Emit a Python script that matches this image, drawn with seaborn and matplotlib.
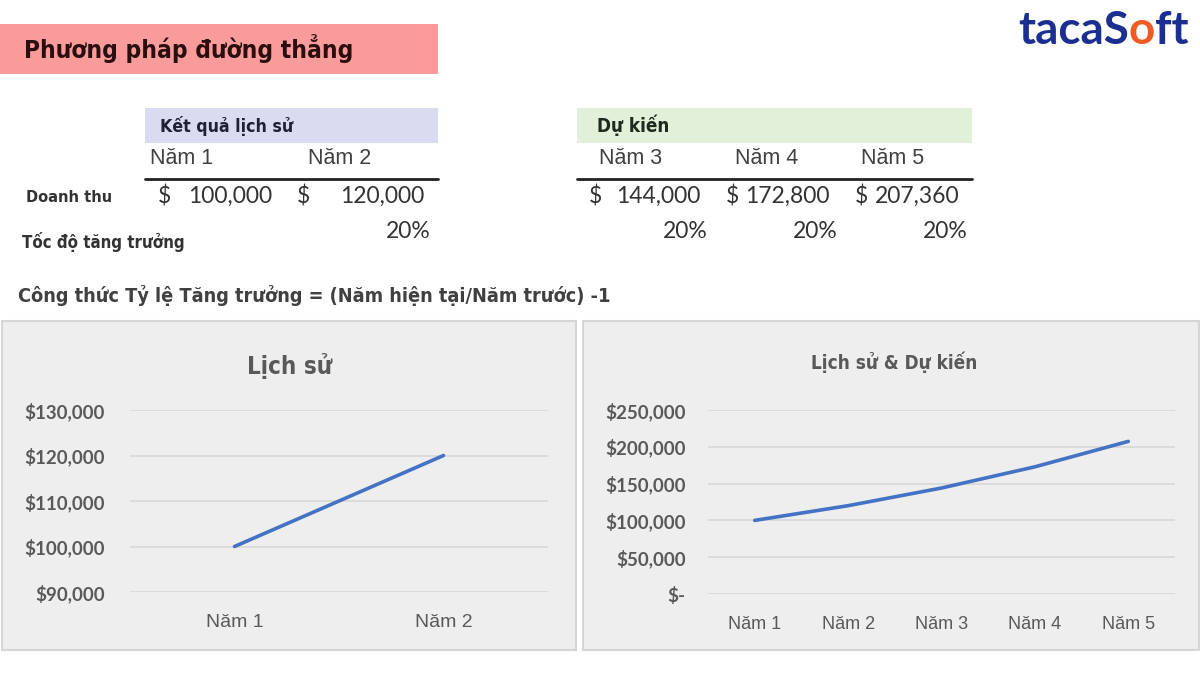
import matplotlib
matplotlib.use("Agg")
import matplotlib.pyplot as plt
import seaborn as sns
from matplotlib import font_manager as fm
from matplotlib.patches import Rectangle
from matplotlib.lines import Line2D
from matplotlib.ticker import FuncFormatter, MultipleLocator

# ---------------- data ----------------
title = "Phương pháp đường thẳng"
hist_header = "Kết quả lịch sử"
proj_header = "Dự kiến"
years = ["Năm 1", "Năm 2", "Năm 3", "Năm 4", "Năm 5"]
revenue = [100000, 120000, 144000, 172800, 207360]
growth = [None, "20%", "20%", "20%", "20%"]
row_labels = ["Doanh thu", "Tốc độ tăng trưởng"]
formula = "Công thức Tỷ lệ Tăng trưởng = (Năm hiện tại/Năm trước) -1"
chart1_title = "Lịch sử"
chart2_title = "Lịch sử & Dự kiến"
hist_years = years[:2]
hist_revenue = revenue[:2]
logo_parts = [("tacaS", "#1b2f91"), ("o", "#f15a24"), ("ft", "#1b2f91")]

# ---------------- style ----------------
sns.set_theme(style="white")
plt.rcParams["font.family"] = ["Liberation Sans", "DejaVu Sans"]
ARIAL = ["Liberation Sans", "DejaVu Sans"]
LATO = ["Lato", "DejaVu Sans"]

_fonts = {(f.name, f.stretch) for f in fm.fontManager.ttflist}
if any(n == "Liberation Sans Narrow" for n, _ in _fonts):
    NARROW = dict(family=["Liberation Sans Narrow", "DejaVu Sans"])
elif ("DejaVu Sans", "condensed") in _fonts:
    NARROW = dict(family=["DejaVu Sans"], stretch="condensed")
else:
    NARROW = dict(family=["Roboto", "DejaVu Sans"])

W, H = 1200, 675
fig = plt.figure(figsize=(12, 6.75), dpi=100)
fig.patch.set_facecolor("white")
renderer = fig.canvas.get_renderer()


def fx(x):
    return x / W


def fy(y):
    return 1 - y / H


def T(x, y, s, **kw):
    kw.setdefault("va", "center")
    return fig.text(fx(x), fy(y), s, **kw)


def fit(x, y, s, width, size0=14, **kw):
    t = T(x, y, s, fontsize=size0, **kw)
    w = t.get_window_extent(renderer=renderer).width
    t.set_fontsize(size0 * width / w)
    return t


def rect(x0, y0, x1, y1, **kw):
    r = Rectangle((fx(x0), fy(y1)), (x1 - x0) / W, (y1 - y0) / H,
                  transform=fig.transFigure, **kw)
    fig.add_artist(r)
    return r


# ---------------- banner ----------------
rect(0, 24, 438, 74, facecolor="#f99b9b", edgecolor="none", zorder=-2)
fit(24, 49, title, 330, weight="bold", color="#2b0f0f", **NARROW)

# ---------------- logo ----------------
lx = 1018
for s, c in logo_parts:
    t = fig.text(fx(lx), fy(44), s, fontsize=33, weight="bold", family=LATO,
                 color=c, va="baseline")
    lx += t.get_window_extent(renderer=renderer).width

# ---------------- table ----------------
rect(145, 108, 438, 143, facecolor="#d9dcf1", edgecolor="none", zorder=-2)
rect(577, 108, 972, 143, facecolor="#e2efd9", edgecolor="none", zorder=-2)
fit(160, 126, hist_header, 134, weight="bold", color="#1f1f35", **NARROW)
fit(597, 125, proj_header, 73, weight="bold", color="#1f2a1f", **NARROW)

col_left = [150, 308, 599, 735, 861]
dollar_x = [158, 297, 589, 726, 855]
num_right = [272, 424, 700, 830, 960]
growth_right = [None, 431, 708, 838, 968]
for i, yr in enumerate(years):
    T(col_left[i], 159, yr, fontsize=15.5, family=ARIAL, color="#404040")
    T(dollar_x[i], 196, "$", fontsize=16.5, family=LATO, color="#333333")
    T(num_right[i], 196, f"{revenue[i]:,.0f}", fontsize=16.5, family=LATO,
      color="#333333", ha="right")
    if growth[i]:
        T(growth_right[i], 231, growth[i], fontsize=16.5, family=LATO,
          color="#333333", ha="right")

for x0, x1 in [(145, 438), (577, 972)]:
    fig.add_artist(Line2D([fx(x0), fx(x1)], [fy(179), fy(179)], lw=2,
                          color="#222222", transform=fig.transFigure))

fit(26, 198, row_labels[0], 86, weight="bold", color="#333333", **NARROW)
fit(22, 242, row_labels[1], 164, weight="bold", color="#333333", **NARROW)
fit(18, 296, formula, 595, weight="bold", color="#404040", **NARROW)

# ---------------- chart panels ----------------
rect(2, 321, 576, 650, facecolor="#eeeeee", edgecolor="#d6d6d6", lw=1.5, zorder=-1)
rect(583, 321, 1199, 650, facecolor="#eeeeee", edgecolor="#d6d6d6", lw=1.5, zorder=-1)


def money(v, pos=None):
    return "$-" if v == 0 else f"${v:,.0f}"


def style_axes(ax, step, lo, hi, ncat, ypad, xpad, xfs):
    ax.set_facecolor("none")
    ax.set_xlim(-0.5, ncat - 0.5)
    ax.set_ylim(lo, hi)
    ax.yaxis.set_major_locator(MultipleLocator(step))
    ax.yaxis.set_major_formatter(FuncFormatter(money))
    ax.grid(axis="y", color="#d9d9d9", lw=1.3)
    ax.grid(axis="x", visible=False)
    for sp in ax.spines.values():
        sp.set_visible(False)
    ax.tick_params(axis="y", length=0, pad=ypad, labelsize=13.5, labelcolor="#595959")
    ax.tick_params(axis="x", length=0, pad=xpad, labelsize=xfs, labelcolor="#595959")
    for lab in ax.get_yticklabels():
        lab.set_fontfamily(LATO)
        lab.set_fontweight("bold")
    for lab in ax.get_xticklabels():
        lab.set_fontfamily(ARIAL)
    ax.set_xlabel("")
    ax.set_ylabel("")


ax1 = fig.add_axes([fx(130), fy(592), 418 / W, (592 - 410) / H])
sns.lineplot(x=hist_years, y=hist_revenue, ax=ax1, color="#4472c4", lw=2.6, sort=False)
style_axes(ax1, 10000, 90000, 130000, len(hist_years), 18, 16, 14)

ax2 = fig.add_axes([fx(708), fy(594), 467 / W, (594 - 410) / H])
sns.lineplot(x=years, y=revenue, ax=ax2, color="#4472c4", lw=2.6, sort=False)
style_axes(ax2, 50000, 0, 250000, len(years), 16, 16, 13)

fit(290, 366, chart1_title, 86, weight="bold", color="#595959", ha="center", **NARROW)
fit(894, 362, chart2_title, 168, weight="bold", color="#595959", ha="center", **NARROW)

fig.savefig("out.png", dpi=100, facecolor="white")
